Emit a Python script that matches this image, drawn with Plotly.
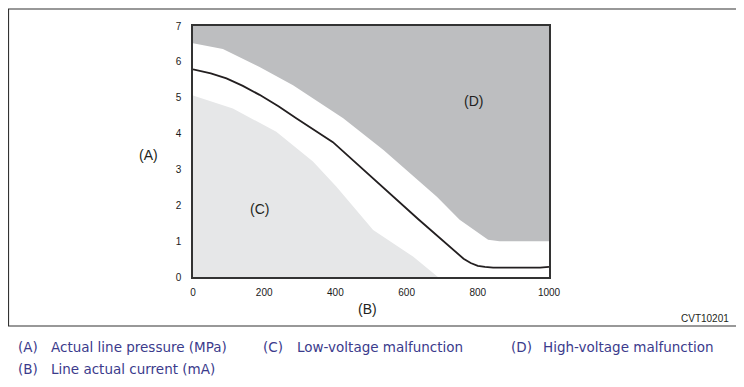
import plotly.graph_objects as go

# Data
line_x = [0, 50, 94, 140, 187, 240, 290, 340, 393, 633, 693, 720, 740, 760, 780, 800, 820, 843, 975, 1000]
line_y = [5.79, 5.68, 5.54, 5.33, 5.08, 4.76, 4.43, 4.10, 3.76, 1.61, 1.08, 0.85, 0.67, 0.51, 0.39, 0.31, 0.28, 0.26, 0.26, 0.28]

high_x = [0, 84, 187, 281, 422, 535, 685, 749, 829, 861, 1000]
high_y = [6.52, 6.36, 5.86, 5.35, 4.43, 3.54, 2.24, 1.60, 1.04, 1.00, 1.00]

low_x = [0, 112, 234, 337, 403, 506, 618, 688]
low_y = [5.06, 4.70, 4.05, 3.22, 2.52, 1.31, 0.57, 0.0]

x_ticks = [0, 200, 400, 600, 800, 1000]
y_ticks = [0, 1, 2, 3, 4, 5, 6, 7]
x_max = 1000
y_max = 7

OFF = 8  # page body margin
W, H = 744 - OFF, 387 - OFF
L, R, T, B = 193 - OFF, 549 - OFF, 26 - OFF, 277 - OFF

def px(x):
    return (x - OFF - L) / (R - L)

def py(y):
    return (B - (y - OFF)) / (B - T)

fig = go.Figure()
fig.add_trace(go.Scatter(x=[0, x_max], y=[y_max, y_max], mode="lines",
                         line=dict(width=0, color="#bdbec0"), hoverinfo="skip", showlegend=False))
fig.add_trace(go.Scatter(x=high_x, y=high_y, mode="lines", fill="tonexty",
                         fillcolor="#bdbec0", line=dict(width=0, color="#bdbec0"), showlegend=False))
fig.add_trace(go.Scatter(x=low_x, y=low_y, mode="lines", fill="tozeroy",
                         fillcolor="#e6e7e8", line=dict(width=0, color="#e6e7e8"), showlegend=False))
fig.add_trace(go.Scatter(x=line_x, y=line_y, mode="lines",
                         line=dict(width=1.8, color="#231f20"),
                         showlegend=False))

axis_font = dict(family="Liberation Sans, Arial, sans-serif", size=10, color="#1a1a1a")
fig.update_xaxes(range=[0, x_max], tickvals=x_ticks, showgrid=False, zeroline=False,
                 showline=True, mirror=True, linecolor="#333333", linewidth=1.5,
                 ticks="", tickfont=axis_font, ticklabelstandoff=5)
fig.update_yaxes(range=[0, y_max], tickvals=y_ticks, showgrid=False, zeroline=False,
                 showline=True, mirror=True, linecolor="#333333", linewidth=1.5,
                 ticks="", tickfont=axis_font, ticklabelstandoff=8)

lab_font = dict(family="Liberation Sans, Arial, sans-serif", size=14, color="#231f20")
ann = [
    dict(x=787, y=4.90, xref="x", yref="y", text="(D)", showarrow=False, font=lab_font),
    dict(x=188, y=1.90, xref="x", yref="y", text="(C)", showarrow=False, font=lab_font),
    dict(x=px(148), y=py(155), xref="paper", yref="paper", text="(A)", showarrow=False,
         xanchor="center", yanchor="middle", font=lab_font),
    dict(x=px(367), y=py(309), xref="paper", yref="paper", text="(B)", showarrow=False,
         xanchor="center", yanchor="middle", font=lab_font),
    dict(x=px(731), y=py(318), xref="paper", yref="paper", text="CVT10201", showarrow=False,
         xanchor="right", yanchor="middle",
         font=dict(family="Liberation Sans, Arial, sans-serif", size=10, color="#231f20")),
]
leg_font = dict(family="DejaVu Sans, Verdana, sans-serif", size=13.5, color="#3b3b8c")
legend_items = [
    (16, 347, "(A)"), (49, 347, "Actual line pressure (MPa)"),
    (261, 347, "(C)"), (295, 347, "Low-voltage malfunction"),
    (509, 347, "(D)"), (541, 347, "High-voltage malfunction"),
    (16, 369, "(B)"), (49, 369, "Line actual current (mA)"),
]
for xx, yy, t in legend_items:
    ann.append(dict(x=px(xx), y=py(yy), xref="paper", yref="paper", text=t, showarrow=False,
                    xanchor="left", yanchor="middle", font=leg_font))

fig.update_layout(
    width=W, height=H, margin=dict(l=L, r=W - R, t=T, b=H - B),
    paper_bgcolor="white", plot_bgcolor="white",
    annotations=ann,
    shapes=[dict(type="rect", xref="paper", yref="paper",
                 x0=px(8.5), x1=px(737.5), y0=py(326), y1=py(9),
                 line=dict(color="#333333", width=1.2))],
)
fig.write_html("out.html")
